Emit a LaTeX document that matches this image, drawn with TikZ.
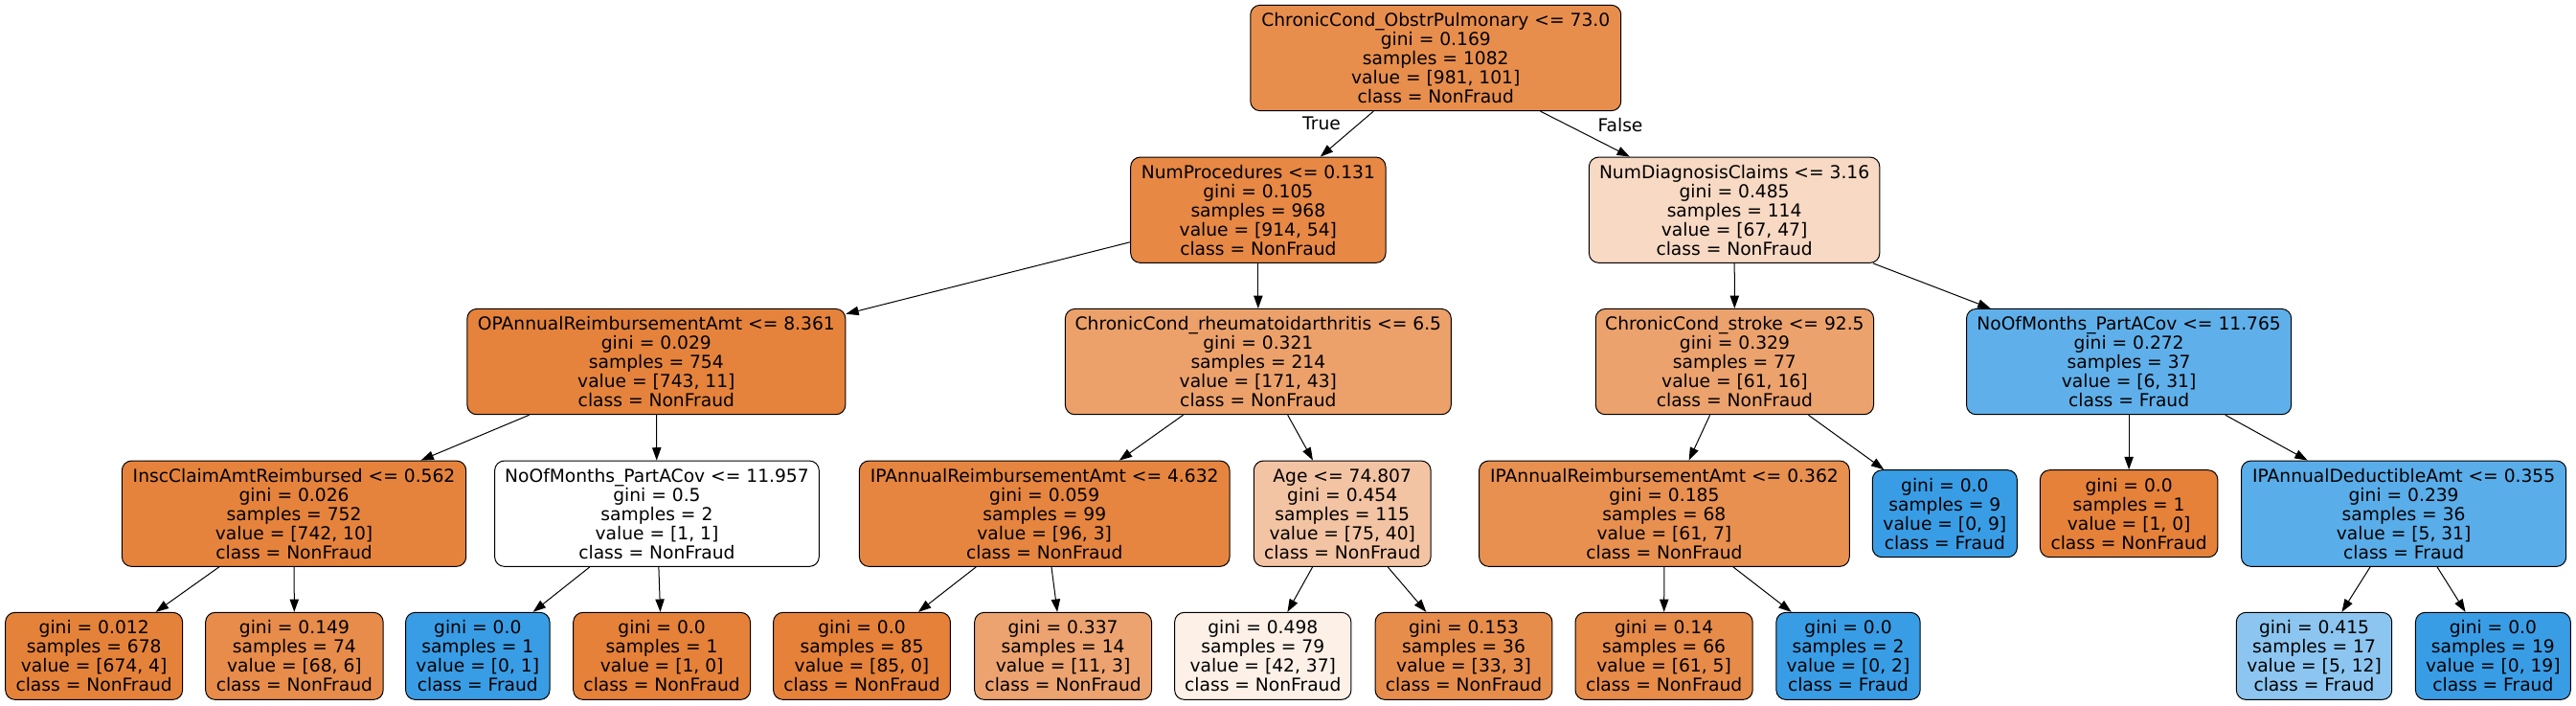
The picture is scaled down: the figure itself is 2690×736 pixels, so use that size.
\documentclass[tikz,border=0pt]{standalone}
\usepackage{fontspec}
\setmainfont{DejaVu Sans}
\usetikzlibrary{arrows.meta}
\definecolor{cRoot}{RGB}{232,142,77}
\definecolor{cNumProc}{RGB}{231,136,69}
\definecolor{cNumDiag}{RGB}{247,217,196}
\definecolor{cOPA}{RGB}{229,131,60}
\definecolor{cRheum}{RGB}{236,161,107}
\definecolor{cStroke}{RGB}{236,162,109}
\definecolor{cNomA}{RGB}{95,176,234}
\definecolor{cInsc}{RGB}{229,131,60}
\definecolor{cIPA}{RGB}{230,133,63}
\definecolor{cAge}{RGB}{243,196,163}
\definecolor{cIPB}{RGB}{232,144,80}
\definecolor{cBlue}{RGB}{57,157,229}
\definecolor{cOrange}{RGB}{229,129,57}
\definecolor{cDed}{RGB}{89,173,233}
\definecolor{cL674}{RGB}{229,130,58}
\definecolor{cL68}{RGB}{231,140,74}
\definecolor{cL11}{RGB}{236,163,111}
\definecolor{cL42}{RGB}{252,240,231}
\definecolor{cL33}{RGB}{231,141,75}
\definecolor{cL61}{RGB}{231,139,73}
\definecolor{cL512}{RGB}{140,198,240}
\tikzset{
  tn/.style={draw=black, line width=0.75pt, rounded corners=7.5pt, inner sep=0pt,
    align=center, font=\fontsize{14pt}{15pt}\selectfont, minimum height=82.7pt},
  lf/.style={tn, minimum height=68.25pt},
  edge/.style={line width=0.75pt, -{Triangle[length=10pt,width=7pt]}},
  elab/.style={inner sep=0pt, font=\fontsize{14pt}{15pt}\selectfont}
}
\begin{document}
\begin{tikzpicture}[x=0.75pt,y=-0.75pt]
\useasboundingbox (0,0) rectangle (2690,736);
% level 1
\node[tn, fill=cRoot, minimum width=290.2pt] (root) at (1499.25,60.5)
  {ChronicCond\_ObstrPulmonary <= 73.0\\gini = 0.169\\samples = 1082\\value = [981, 101]\\class = NonFraud};
% level 2
\node[tn, fill=cNumProc, minimum width=199.7pt] (numproc) at (1313.85,219.2)
  {NumProcedures <= 0.131\\gini = 0.105\\samples = 968\\value = [914, 54]\\class = NonFraud};
\node[tn, fill=cNumDiag, minimum width=227.6pt] (numdiag) at (1811.1,219.2)
  {NumDiagnosisClaims <= 3.16\\gini = 0.485\\samples = 114\\value = [67, 47]\\class = NonFraud};
% level 3
\node[tn, fill=cOPA, minimum width=296.2pt] (opa) at (685.35,377.6)
  {OPAnnualReimbursementAmt <= 8.361\\gini = 0.029\\samples = 754\\value = [743, 11]\\class = NonFraud};
\node[tn, fill=cRheum, minimum width=302.2pt] (rheum) at (1313.85,377.6)
  {ChronicCond\_rheumatoidarthritis <= 6.5\\gini = 0.321\\samples = 214\\value = [171, 43]\\class = NonFraud};
\node[tn, fill=cStroke, minimum width=217.7pt] (stroke) at (1811.4,377.6)
  {ChronicCond\_stroke <= 92.5\\gini = 0.329\\samples = 77\\value = [61, 16]\\class = NonFraud};
\node[tn, fill=cNomA, minimum width=254.4pt] (noma) at (2223.1,377.6)
  {NoOfMonths\_PartACov <= 11.765\\gini = 0.272\\samples = 37\\value = [6, 31]\\class = Fraud};
% level 4
\node[tn, fill=cInsc, minimum width=269.5pt] (insc) at (307.05,536.2)
  {InscClaimAmtReimbursed <= 0.562\\gini = 0.026\\samples = 752\\value = [742, 10]\\class = NonFraud};
\node[tn, fill=white, minimum width=254.0pt] (nomb) at (685.95,536.2)
  {NoOfMonths\_PartACov <= 11.957\\gini = 0.5\\samples = 2\\value = [1, 1]\\class = NonFraud};
\node[tn, fill=cIPA, minimum width=290.0pt] (ipa) at (1090.7,536.2)
  {IPAnnualReimbursementAmt <= 4.632\\gini = 0.059\\samples = 99\\value = [96, 3]\\class = NonFraud};
\node[tn, fill=cAge, minimum width=138.6pt] (age) at (1401.7,536.2)
  {Age <= 74.807\\gini = 0.454\\samples = 115\\value = [75, 40]\\class = NonFraud};
\node[tn, fill=cIPB, minimum width=290.0pt] (ipb) at (1737.9,536.2)
  {IPAnnualReimbursementAmt <= 0.362\\gini = 0.185\\samples = 68\\value = [61, 7]\\class = NonFraud};
\node[lf, fill=cBlue, minimum width=113.3pt] (l09) at (2030.8,536.2)
  {gini = 0.0\\samples = 9\\value = [0, 9]\\class = Fraud};
\node[lf, fill=cOrange, minimum width=139.1pt] (l10b) at (2223.1,536.2)
  {gini = 0.0\\samples = 1\\value = [1, 0]\\class = NonFraud};
\node[tn, fill=cDed, minimum width=254.4pt] (ded) at (2510.1,536.2)
  {IPAnnualDeductibleAmt <= 0.355\\gini = 0.239\\samples = 36\\value = [5, 31]\\class = Fraud};
% level 5
\node[lf, fill=cL674, minimum width=138.7pt] (l674) at (98.15,684.85)
  {gini = 0.012\\samples = 678\\value = [674, 4]\\class = NonFraud};
\node[lf, fill=cL68, minimum width=139.1pt] (l68) at (307.4,684.85)
  {gini = 0.149\\samples = 74\\value = [68, 6]\\class = NonFraud};
\node[lf, fill=cBlue, minimum width=112.8pt] (l01) at (498.8,684.85)
  {gini = 0.0\\samples = 1\\value = [0, 1]\\class = Fraud};
\node[lf, fill=cOrange, minimum width=138.6pt] (l10) at (691.1,684.85)
  {gini = 0.0\\samples = 1\\value = [1, 0]\\class = NonFraud};
\node[lf, fill=cOrange, minimum width=138.6pt] (l85) at (900,684.85)
  {gini = 0.0\\samples = 85\\value = [85, 0]\\class = NonFraud};
\node[lf, fill=cL11, minimum width=138.6pt] (l11) at (1110.1,684.85)
  {gini = 0.337\\samples = 14\\value = [11, 3]\\class = NonFraud};
\node[lf, fill=cL42, minimum width=138.2pt] (l42) at (1318.75,684.85)
  {gini = 0.498\\samples = 79\\value = [42, 37]\\class = NonFraud};
\node[lf, fill=cL33, minimum width=138.6pt] (l33) at (1528.5,684.85)
  {gini = 0.153\\samples = 36\\value = [33, 3]\\class = NonFraud};
\node[lf, fill=cL61, minimum width=138.9pt] (l61) at (1737.6,684.85)
  {gini = 0.14\\samples = 66\\value = [61, 5]\\class = NonFraud};
\node[lf, fill=cBlue, minimum width=112.7pt] (l02) at (1930,684.85)
  {gini = 0.0\\samples = 2\\value = [0, 2]\\class = Fraud};
\node[lf, fill=cL512, minimum width=121.8pt] (l512) at (2416.5,684.85)
  {gini = 0.415\\samples = 17\\value = [5, 12]\\class = Fraud};
\node[lf, fill=cBlue, minimum width=121.4pt] (l019) at (2603.35,684.85)
  {gini = 0.0\\samples = 19\\value = [0, 19]\\class = Fraud};
% edge labels
\node[elab] (ltrue) at (1380,129.3) {True};
\node[elab] (lfalse) at (1692,130.5) {False};
% edges
\draw[edge] (root) -- (numproc);
\draw[edge] (root) -- (numdiag);
\draw[edge] (numproc) -- (opa);
\draw[edge] (numproc) -- (rheum);
\draw[edge] (numdiag) -- (stroke);
\draw[edge] (numdiag) -- (noma);
\draw[edge] (opa) -- (insc);
\draw[edge] (opa) -- (nomb);
\draw[edge] (rheum) -- (ipa);
\draw[edge] (rheum) -- (age);
\draw[edge] (stroke) -- (ipb);
\draw[edge] (stroke) -- (l09);
\draw[edge] (noma) -- (l10b);
\draw[edge] (noma) -- (ded);
\draw[edge] (insc) -- (l674);
\draw[edge] (insc) -- (l68);
\draw[edge] (nomb) -- (l01);
\draw[edge] (nomb) -- (l10);
\draw[edge] (ipa) -- (l85);
\draw[edge] (ipa) -- (l11);
\draw[edge] (age) -- (l42);
\draw[edge] (age) -- (l33);
\draw[edge] (ipb) -- (l61);
\draw[edge] (ipb) -- (l02);
\draw[edge] (ded) -- (l512);
\draw[edge] (ded) -- (l019);
\end{tikzpicture}
\end{document}
